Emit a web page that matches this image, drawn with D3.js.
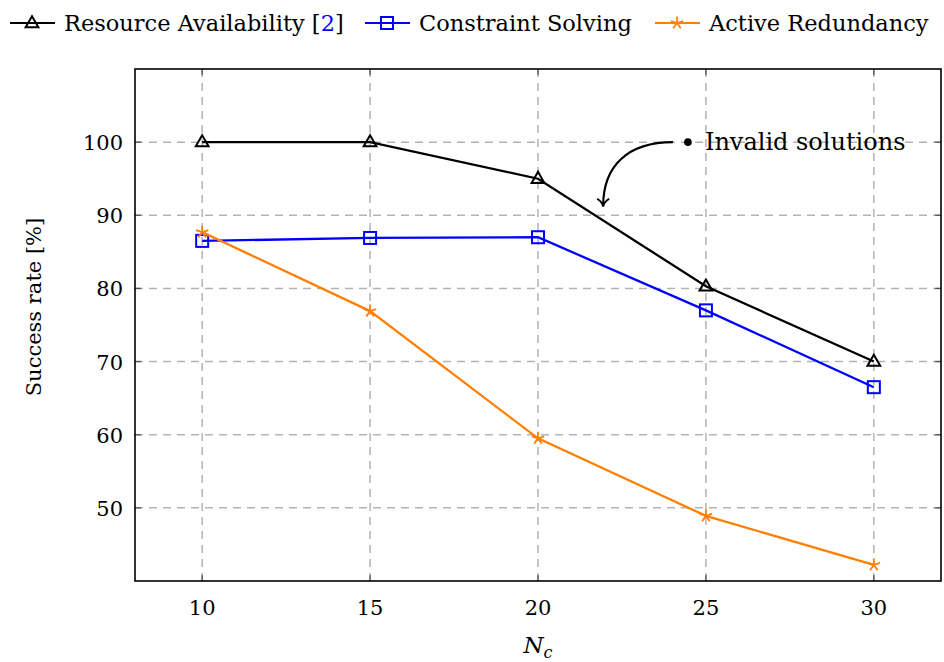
<!DOCTYPE html>
<html>
<head>
<meta charset="utf-8">
<script src="https://cdn.jsdelivr.net/npm/d3@7"></script>
<style>
  body { margin: 0; background: #fff; }
</style>
</head>
<body>
<div id="chart"></div>
<script>
// data
const nc = [10, 15, 20, 25, 30];
const resourceAvail = [100, 100, 95, 80.3, 70];
const constraintSolving = [86.5, 86.9, 87, 77, 66.5];
const activeRedundancy = [87.7, 76.9, 59.5, 48.9, 42.2];
const yTicks = [50, 60, 70, 80, 90, 100];

const W = 944, H = 662;
var margin = { top: 69, right: 3, bottom: 81, left: 135 },
  width = W - margin.left - margin.right,
  height = H - margin.top - margin.bottom;

var svg = d3.select("#chart").append("svg")
  .attr("width", W).attr("height", H)
  .attr("font-family", "DejaVu Serif");

var g = svg.append("g")
  .attr("transform", "translate(" + margin.left + "," + margin.top + ")");

var x = d3.scaleLinear().domain([8, 32]).range([0, width]);
var y = d3.scaleLinear().domain([40, 110]).range([height, 0]);

// grid
g.append("g").selectAll("line").data(nc).enter().append("line")
  .attr("x1", d => x(d)).attr("x2", d => x(d))
  .attr("y1", 0).attr("y2", height)
  .attr("stroke", "#b3b3b3").attr("stroke-width", 1.5)
  .attr("stroke-dasharray", "8,6");
g.append("g").selectAll("line").data(yTicks).enter().append("line")
  .attr("y1", d => y(d)).attr("y2", d => y(d))
  .attr("x1", 0).attr("x2", width)
  .attr("stroke", "#b3b3b3").attr("stroke-width", 1.5)
  .attr("stroke-dasharray", "8,6");

// inward ticks on all sides
const tk = 6;
var ticks = g.append("g").attr("stroke", "#555").attr("stroke-width", 1.3);
nc.forEach(d => {
  ticks.append("line").attr("x1", x(d)).attr("x2", x(d)).attr("y1", height).attr("y2", height - tk);
  ticks.append("line").attr("x1", x(d)).attr("x2", x(d)).attr("y1", 0).attr("y2", tk);
});
yTicks.forEach(d => {
  ticks.append("line").attr("y1", y(d)).attr("y2", y(d)).attr("x1", 0).attr("x2", tk);
  ticks.append("line").attr("y1", y(d)).attr("y2", y(d)).attr("x1", width).attr("x2", width - tk);
});

// tick labels
g.append("g").selectAll("text").data(nc).enter().append("text")
  .attr("x", d => x(d)).attr("y", height + 34)
  .attr("text-anchor", "middle").attr("font-size", 21)
  .text(d => d);
g.append("g").selectAll("text").data(yTicks).enter().append("text")
  .attr("x", -12).attr("y", d => y(d) + 8)
  .attr("text-anchor", "end").attr("font-size", 21)
  .text(d => d);

// axis labels
g.append("text")
  .attr("x", x(20)).attr("y", height + 72)
  .attr("text-anchor", "middle").attr("font-size", 23)
  .attr("font-style", "italic")
  .html('N<tspan font-size="16" dy="5">c</tspan>');
g.append("text")
  .attr("transform", "translate(-94," + (height / 2 - 18) + ") rotate(-90)")
  .attr("text-anchor", "middle").attr("font-size", 21)
  .text("Success rate [%]");

// lines
const series = [
  { name: "Resource Availability", vals: resourceAvail, color: "#000000", mark: "tri" },
  { name: "Constraint Solving", vals: constraintSolving, color: "#0000ff", mark: "sq" },
  { name: "Active Redundancy", vals: activeRedundancy, color: "#ff8000", mark: "star" }
];

var line = d3.line().x(d => x(d[0])).y(d => y(d[1]));

function drawMark(sel, type, color, cx, cy) {
  if (type === "tri") {
    sel.append("path")
      .attr("d", d3.symbol().type(d3.symbolTriangle).size(70)())
      .attr("transform", "translate(" + cx + "," + (cy + 0.5) + ")")
      .attr("fill", "none").attr("stroke", color).attr("stroke-width", 2);
  } else if (type === "sq") {
    sel.append("rect")
      .attr("x", cx - 6).attr("y", cy - 6).attr("width", 12).attr("height", 12)
      .attr("fill", "none").attr("stroke", color).attr("stroke-width", 2);
  } else {
    for (let k = 0; k < 5; k++) {
      const a = -Math.PI / 2 + k * 2 * Math.PI / 5;
      sel.append("line")
        .attr("x1", cx).attr("y1", cy)
        .attr("x2", cx + 6.5 * Math.cos(a)).attr("y2", cy + 6.5 * Math.sin(a))
        .attr("stroke", color).attr("stroke-width", 1.8);
    }
  }
}

// orange star sits over blue at x=10
[series[1], series[0], series[2]].forEach(s => {
  const pts = nc.map((d, i) => [d, s.vals[i]]);
  g.append("path").datum(pts)
    .attr("d", line).attr("fill", "none")
    .attr("stroke", s.color).attr("stroke-width", 2.3);
  var mg = g.append("g");
  pts.forEach(p => drawMark(mg, s.mark, s.color, x(p[0]), y(p[1])));
});

// frame
g.append("rect").attr("width", width).attr("height", height)
  .attr("fill", "none").attr("stroke", "#000").attr("stroke-width", 1.6);

// annotation
var ax = x(25) - 18, ay = y(100);
g.append("circle").attr("cx", ax).attr("cy", ay).attr("r", 3.8).attr("fill", "#000");
g.append("text").attr("x", ax + 17).attr("y", ay + 8)
  .attr("font-size", 24).text("Invalid solutions");
var sx = ax - 15, sy = ay, ex = x(22) - 2, ey = y(91.3);
g.append("path")
  .attr("d", "M" + sx + "," + sy + " C" + (sx - 45) + "," + sy + " " + (ex) + "," + (ey - 40) + " " + ex + "," + ey)
  .attr("fill", "none").attr("stroke", "#000").attr("stroke-width", 2.2);
g.append("path")
  .attr("d", "M" + (ex - 6) + "," + (ey - 7) + " Q" + ex + "," + (ey - 3) + " " + ex + "," + (ey + 1) + " Q" + ex + "," + (ey - 3) + " " + (ex + 6) + "," + (ey - 7))
  .attr("fill", "none").attr("stroke", "#000").attr("stroke-width", 2);

// legend
var legItems = [
  { label: "Resource Availability ", cite: "[2]", color: "#000", mark: "tri", x: 10 },
  { label: "Constraint Solving", color: "#0000ff", mark: "sq", x: 365 },
  { label: "Active Redundancy", color: "#ff8000", mark: "star", x: 655 }
];
var lg = svg.append("g");
legItems.forEach(it => {
  lg.append("line").attr("x1", it.x).attr("x2", it.x + 45).attr("y1", 23).attr("y2", 23)
    .attr("stroke", it.color).attr("stroke-width", 2.2);
  drawMark(lg, it.mark, it.color, it.x + 22, 23);
  var t = lg.append("text").attr("x", it.x + 54).attr("y", 31).attr("font-size", 22.5);
  t.append("tspan").text(it.label);
  if (it.cite) {
    t.append("tspan").text("[");
    t.append("tspan").attr("fill", "#0000ff").text("2");
    t.append("tspan").text("]");
  }
});
</script>
</body>
</html>
